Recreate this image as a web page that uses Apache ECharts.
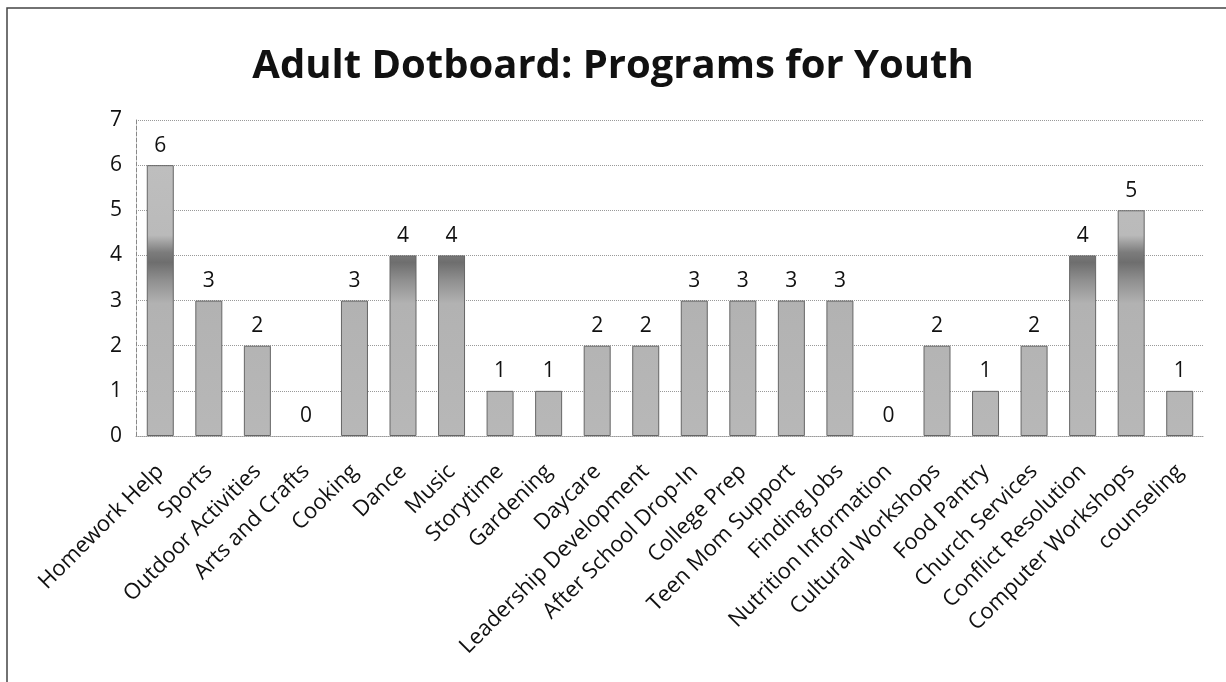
<!DOCTYPE html>
<html>
<head>
<meta charset="utf-8">
<script src="https://cdn.jsdelivr.net/npm/echarts@6/dist/echarts.min.js"></script>
<style>
  html, body { margin: 0; padding: 0; background: #fff; }
  #chart { width: 1226px; height: 682px; }
</style>
</head>
<body>
<div id="chart"></div>
<script>
// programmes on the x axis
var programs = ['Homework Help', 'Sports', 'Outdoor Activities', 'Arts and Crafts', 'Cooking',
  'Dance', 'Music', 'Storytime', 'Gardening', 'Daycare', 'Leadership Development',
  'After School Drop-In', 'College Prep', 'Teen Mom Support', 'Finding Jobs',
  'Nutrition Information', 'Cultural Workshops', 'Food Pantry', 'Church Services',
  'Conflict Resolution', 'Computer Workshops', 'counseling'];
// dots per programme
var dots = [6, 3, 2, 0, 3, 4, 4, 1, 1, 2, 2, 3, 3, 3, 3, 0, 2, 1, 2, 4, 5, 1];
var yTicks = [0, 1, 2, 3, 4, 5, 6, 7];

var myChart = echarts.init(document.getElementById('chart'));

// gray fill, darker band pinned around the 4 line on the page like the scan
var barFill = new echarts.graphic.LinearGradient(0, 0, 0, 682, [
  { offset: 0, color: '#c8c8c8' },
  { offset: 0.345, color: '#bababa' },
  { offset: 0.37, color: '#7c7c7c' },
  { offset: 0.385, color: '#6e6e6e' },
  { offset: 0.41, color: '#8e8e8e' },
  { offset: 0.445, color: '#b2b2b2' },
  { offset: 1, color: '#c2c2c2' }
], true);

myChart.setOption({
  animation: false,
  graphic: [{
    type: 'rect',
    shape: { x: 7, y: 8, width: 1230, height: 690 },
    style: { fill: 'none', stroke: '#444', lineWidth: 1.5 }
  }],
  title: {
    text: 'Adult Dotboard: Programs for Youth',
    left: 'center',
    top: 42,
    textStyle: { fontFamily: 'Open Sans', fontWeight: 'bold', fontSize: 40, color: '#111' }
  },
  grid: { left: 136, right: 22, top: 120, bottom: 246 },
  xAxis: {
    type: 'category',
    data: programs,
    axisLine: { show: true, lineStyle: { color: '#999', type: 'dotted' } },
    axisTick: { show: false },
    axisLabel: {
      interval: 0, rotate: 45, margin: 32,
      fontFamily: 'Open Sans', fontSize: 22, color: '#111'
    }
  },
  yAxis: {
    type: 'value',
    min: yTicks[0], max: yTicks[yTicks.length - 1], interval: 1,
    axisLine: { show: true, lineStyle: { color: '#888', type: 'dashed' } },
    axisTick: { show: false },
    splitLine: { lineStyle: { color: '#999', type: 'dotted' } },
    axisLabel: { margin: 14, fontFamily: 'Open Sans', fontSize: 21, color: '#111' }
  },
  series: [{
    type: 'bar',
    data: dots.map(function (v) {
      return v === 0 ? { value: v, itemStyle: { borderWidth: 0 } } : v;
    }),
    barWidth: 27,
    itemStyle: { color: barFill, borderColor: '#666', borderWidth: 1 },
    label: {
      show: true, position: 'top', distance: 9,
      fontFamily: 'Open Sans', fontSize: 21, color: '#111'
    }
  }]
});
</script>
</body>
</html>
